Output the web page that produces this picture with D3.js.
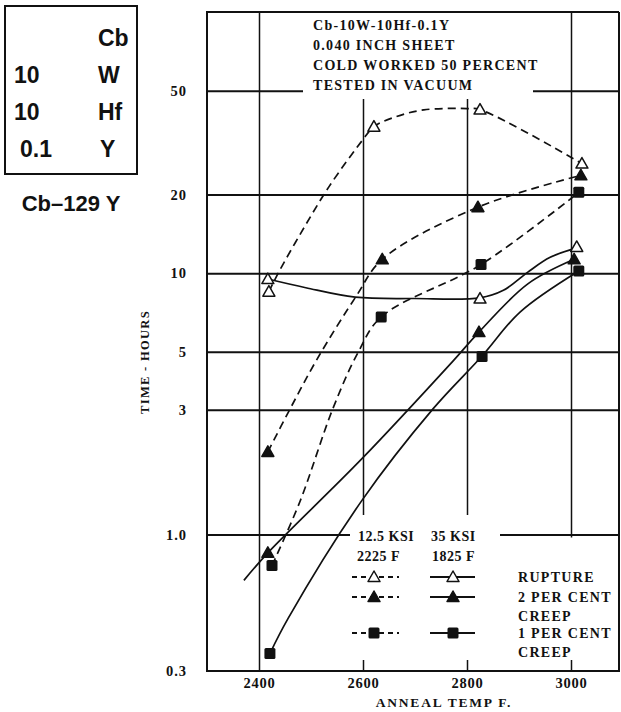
<!DOCTYPE html>
<html>
<head>
<meta charset="utf-8">
<script src="https://cdn.jsdelivr.net/npm/d3@7"></script>
<style>
  body { margin: 0; background: #fff; }
  text { font-family: "Liberation Serif", serif; font-weight: bold; fill: #111; }
</style>
</head>
<body>
<div id="chart"></div>
<script>
// values, [anneal temp F, hours]
const tempTicks = [2400, 2600, 2800, 3000]
const hourTicks = [0.3, 1, 3, 5, 10, 20, 50]
const hourLabels = ['0.3', '1.0', '3', '5', '10', '20', '50']
const gridHours = [1, 3, 5, 10, 20, 50]

// 12.5 ksi / 2225 F  (dashed)
const rupture125Pts = [[2419, 8.5], [2621, 36.4], [2825, 42.3], [3021, 26.3]]
const rupture125Line = [[2419, 8.5], [2438, 10.1], [2481, 14.3], [2535, 21.5], [2600, 32.5], [2621, 36.4],
                        [2663, 39.7], [2717, 42.2], [2800, 42.7], [2825, 42.3], [3021, 26.3]]
const creep2125Pts = [[2417, 2.07], [2637, 11.3], [2821, 17.9], [3019, 23.7]]
const creep2125Line = [[2417, 2.07], [2460, 3.03], [2512, 4.7], [2587, 8.17], [2637, 11.3], [2821, 17.9], [3019, 23.7]]
const creep1125Pts = [[2425, 0.76], [2635, 6.8], [2827, 10.8], [3015, 20.4]]
const creep1125Line = [[2425, 0.76], [2479, 1.34], [2542, 3.03], [2590, 4.95], [2635, 6.8], [2827, 10.8], [3015, 20.4]]

// 35 ksi / 1825 F  (solid)
const rupture35Pts = [[2417, 9.5], [2825, 8.0], [3011, 12.6]]
const rupture35Line = [[2417, 9.5], [2490, 8.8], [2585, 8.1], [2700, 8.0], [2825, 8.05], [2870, 8.6],
                       [2917, 10.1], [2960, 11.5], [3011, 12.5]]
const creep235Pts = [[2417, 0.85], [2823, 5.95], [3006, 11.3]]
const creep235Line = [[2371, 0.667], [2417, 0.85], [2598, 1.95], [2773, 4.61], [2823, 5.95], [2917, 9.1], [3006, 11.3]]
const creep135Pts = [[2421, 0.35], [2829, 4.8], [3015, 10.2]]
const creep135Line = [[2421, 0.35], [2456, 0.477], [2598, 1.35], [2735, 3.03], [2829, 4.82], [2902, 7.1], [3015, 10.2]]

const noteLines = ['Cb-10W-10Hf-0.1Y', '0.040 INCH SHEET', 'COLD WORKED 50 PERCENT', 'TESTED IN VACUUM']
const alloyRows = [['', 'Cb'], ['10', 'W'], ['10', 'Hf'], ['0.1', 'Y']]
const legendNames = [['RUPTURE'], ['2 PER CENT', 'CREEP'], ['1 PER CENT', 'CREEP']]
const legendMarks = ['open', 'tri', 'square']

const series = [
  { pts: rupture125Pts, line: rupture125Line, mark: 'open', dashed: true },
  { pts: creep2125Pts, line: creep2125Line, mark: 'tri', dashed: true },
  { pts: creep1125Pts, line: creep1125Line, mark: 'square', dashed: true },
  { pts: rupture35Pts, line: rupture35Line, mark: 'open', dashed: false },
  { pts: creep235Pts, line: creep235Line, mark: 'tri', dashed: false },
  { pts: creep135Pts, line: creep135Line, mark: 'square', dashed: false }
]

const W = 621, H = 712
const pL = 207, pR = 619, pT = 12, pB = 671

const x = d3.scaleLinear().domain([2300, 3100]).range([pL, 623])
const y = d3.scaleLog().domain([0.3, 100]).range([pB, pT])

const svg = d3.select('#chart').append('svg')
  .attr('width', W).attr('height', H)

// grid
const gx = svg.append('g')
  .attr('transform', 'translate(0,' + pB + ')')
  .call(d3.axisBottom(x).tickValues(tempTicks).tickSize(-(pB - pT)).tickFormat(''))
gx.select('.domain').remove()
gx.selectAll('line').attr('stroke', '#111').attr('stroke-width', 1.5)

const gy = svg.append('g')
  .attr('transform', 'translate(' + pL + ',0)')
  .call(d3.axisLeft(y).tickValues(gridHours).tickSize(-(pR - pL)).tickFormat(''))
gy.select('.domain').remove()
gy.selectAll('line').attr('stroke', '#111').attr('stroke-width', 2)

// white panels behind the note and the legend
const panels = [[303, pT + 1, 230, 86], [350, 515, 150, 145], [500, 537.5, 119, 122.5]]
svg.selectAll('.panel').data(panels).join('rect')
  .attr('x', d => d[0]).attr('y', d => d[1]).attr('width', d => d[2]).attr('height', d => d[3])
  .attr('fill', '#fff')

// frame
svg.append('path')
  .attr('d', `M${pR},${pT}H${pL}V${pB}H${pR}V${pT}`)
  .attr('fill', 'none').attr('stroke', '#111').attr('stroke-width', 2)

// axis labels
const ay = svg.append('g')
  .attr('transform', 'translate(' + pL + ',0)')
  .call(d3.axisLeft(y).tickValues(hourTicks).tickFormat((d, i) => hourLabels[i]).tickSize(0).tickPadding(20))
ay.select('.domain').remove()
ay.selectAll('text').attr('font-family', null).attr('fill', null)
  .style('font-size', '14.5px').style('letter-spacing', '1px')

const ax = svg.append('g')
  .attr('transform', 'translate(0,' + pB + ')')
  .call(d3.axisBottom(x).tickValues(tempTicks).tickFormat(d3.format('d')).tickSize(0).tickPadding(7))
ax.select('.domain').remove()
ax.selectAll('text').attr('font-family', null).attr('fill', null)
  .style('font-size', '14.5px').style('letter-spacing', '0.8px')

svg.append('text')
  .attr('x', 444).attr('y', 707).attr('text-anchor', 'middle')
  .style('font-size', '13.5px').style('letter-spacing', '1.8px')
  .text('ANNEAL TEMP F.')

svg.append('text')
  .attr('transform', 'translate(149,362) rotate(-90)').attr('text-anchor', 'middle')
  .style('font-size', '12.5px').style('letter-spacing', '1.3px')
  .text('TIME - HOURS')

// curves
const line = d3.line().x(d => x(d[0])).y(d => y(d[1])).curve(d3.curveCatmullRom.alpha(0.5))
svg.selectAll('.curve').data(series).join('path')
  .attr('d', d => line(d.line))
  .attr('fill', 'none').attr('stroke', '#111').attr('stroke-width', 1.7)
  .attr('stroke-dasharray', d => d.dashed ? '8,5' : null)

function drawMark(g, type) {
  if (type === 'square') {
    g.append('rect').attr('x', -5.5).attr('y', -5.5).attr('width', 11).attr('height', 11)
      .attr('rx', 1.5).attr('fill', '#111')
  } else {
    g.append('path').attr('d', 'M0,-6L6,4.5L-6,4.5Z')
      .attr('fill', type === 'open' ? '#fff' : '#111')
      .attr('stroke', '#111').attr('stroke-width', 1.5).attr('stroke-linejoin', 'round')
  }
}

series.forEach(s => {
  s.pts.forEach(p => {
    const g = svg.append('g').attr('transform', `translate(${x(p[0])},${y(p[1])})`)
    drawMark(g, s.mark)
  })
})

// note
svg.append('g').selectAll('text').data(noteLines).join('text')
  .attr('x', 313).attr('y', (d, i) => 30 + i * 20)
  .style('font-size', '14px').style('letter-spacing', '1.3px')
  .text(d => d)

// legend
const lg = svg.append('g')
const legendHead = [['12.5 KSI', 358, 541], ['35 KSI', 431, 541], ['2225 F', 357, 561], ['1825 F', 432, 561]]
legendHead.forEach(h => {
  lg.append('text').attr('x', h[1]).attr('y', h[2])
    .style('font-size', '14px').style('letter-spacing', '0.5px').text(h[0])
})

const rowY = [577, 597, 633]
legendMarks.forEach((m, i) => {
  lg.append('line').attr('x1', 352).attr('x2', 399).attr('y1', rowY[i]).attr('y2', rowY[i])
    .attr('stroke', '#111').attr('stroke-width', 1.8).attr('stroke-dasharray', '5,4')
  lg.append('line').attr('x1', 430).attr('x2', 475).attr('y1', rowY[i]).attr('y2', rowY[i])
    .attr('stroke', '#111').attr('stroke-width', 1.8)
  drawMark(lg.append('g').attr('transform', `translate(374,${rowY[i]})`), m)
  drawMark(lg.append('g').attr('transform', `translate(453,${rowY[i]})`), m)
  legendNames[i].forEach((t, j) => {
    lg.append('text').attr('x', 518).attr('y', rowY[i] + 5 + j * 19)
      .style('font-size', '14px').style('letter-spacing', '1.3px').text(t)
  })
})

// alloy box
svg.append('rect').attr('x', 5).attr('y', 6).attr('width', 132).attr('height', 168)
  .attr('fill', 'none').attr('stroke', '#111').attr('stroke-width', 2)
const box = svg.append('g').style('font-family', '"Liberation Sans", Arial, sans-serif')
alloyRows.forEach((r, i) => {
  box.append('text').attr('x', r[0] === '0.1' ? 20 : 14).attr('y', 46 + i * 37)
    .style('font-family', 'inherit').style('font-size', '23px').text(r[0])
  box.append('text').attr('x', r[1] === 'Y' ? 100 : 98).attr('y', 46 + i * 37)
    .style('font-family', 'inherit').style('font-size', '23px').text(r[1])
})
box.append('text').attr('x', 71).attr('y', 211).attr('text-anchor', 'middle')
  .style('font-family', 'inherit').style('font-size', '22px').text('Cb–129 Y')
</script>
</body>
</html>
